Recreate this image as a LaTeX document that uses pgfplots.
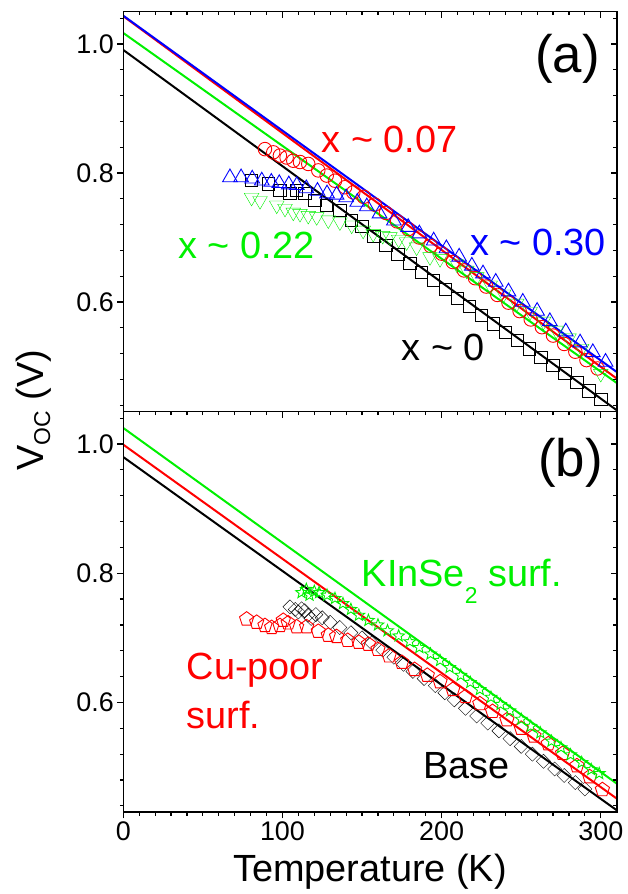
\documentclass[border=0pt]{standalone}
\usepackage{pgfplots}
\pgfplotsset{compat=1.18}
\usepackage{fontspec}
\setmainfont{Liberation Sans}
\definecolor{myred}{RGB}{255,0,0}
\definecolor{myblue}{RGB}{0,0,255}
\definecolor{mygreen}{RGB}{0,240,0}

\pgfdeclareplotmark{ostar}{%
 \pgfpathmoveto{\pgfpointpolar{90}{\pgfplotmarksize}}%
 \pgfpathlineto{\pgfpointpolar{126}{0.42\pgfplotmarksize}}%
 \pgfpathlineto{\pgfpointpolar{162}{\pgfplotmarksize}}%
 \pgfpathlineto{\pgfpointpolar{198}{0.42\pgfplotmarksize}}%
 \pgfpathlineto{\pgfpointpolar{234}{\pgfplotmarksize}}%
 \pgfpathlineto{\pgfpointpolar{270}{0.42\pgfplotmarksize}}%
 \pgfpathlineto{\pgfpointpolar{306}{\pgfplotmarksize}}%
 \pgfpathlineto{\pgfpointpolar{342}{0.42\pgfplotmarksize}}%
 \pgfpathlineto{\pgfpointpolar{18}{\pgfplotmarksize}}%
 \pgfpathlineto{\pgfpointpolar{54}{0.42\pgfplotmarksize}}%
 \pgfpathclose
 \pgfusepathqstroke
}

\tikzset{lbl/.style={anchor=base west, inner sep=0pt, font=\fontsize{38}{44}\selectfont}}

\pgfplotsset{
 base/.style={scale only axis, width=493.4bp, xmin=0, xmax=310, ymin=0.43, ymax=1.05,
   axis line style={line width=1.6bp},
   xtick={0,100,200,300},
   minor xtick={10,20,30,40,50,60,70,80,90,110,120,130,140,150,160,170,180,190,210,220,230,240,250,260,270,280,290},
   ytick={0.6,0.8,1.0},
   minor ytick={0.44,0.48,0.52,0.56,0.64,0.68,0.72,0.76,0.84,0.88,0.92,0.96,1.04},
   major tick length=6bp, minor tick length=3.5bp,
   tick style={black, line width=1.2bp},
   /pgf/number format/assume math mode=true,
   tick label style={font=\fontsize{27}{32}\selectfont},
 },
 mirror/.style={base, tick align=inside, xtick pos=right, ytick pos=right, xticklabels={}, yticklabels={}},
 main/.style={base, tick align=outside, xtick pos=left, ytick pos=left, yticklabels={0.6,0.8,1.0}},
 mk/.style={only marks, mark options={line width=0.9bp, solid}},
 fit/.style={line width=2bp, no marks},
}

\begin{document}
\begin{tikzpicture}
\path[use as bounding box] (0,0) rectangle (628bp,894bp);

% ---------------- Panel (a) ----------------
\begin{axis}[main, height=400bp, at={(123.3bp,482.3bp)}, anchor=south west, xticklabels={}]
\addplot[mk, black, mark=square, mark size=6.2] coordinates {
(80.6,0.788)(91.1,0.783)(98.4,0.773)(104.7,0.768)(108.9,0.773)(114.1,0.768)(120.4,0.757)(127.8,0.750)(136.1,0.742)(143.5,0.726)(150,0.717)(157.5,0.702)(165,0.688)(172.5,0.674)(180,0.660)(187.5,0.646)(195,0.633)(202.5,0.619)(210,0.606)(217.5,0.593)(225,0.579)(232.5,0.566)(240,0.553)(247.5,0.540)(255,0.527)(262.5,0.514)(270,0.502)(277.5,0.489)(285,0.475)(292.5,0.462)(300,0.449)};
\addplot[mk, myred, mark=o, mark size=6.8] coordinates {
(89,0.837)(94.2,0.832)(98.4,0.827)(102.6,0.824)(106.8,0.819)(111,0.817)(116.2,0.814)(122.5,0.804)(127.8,0.796)(133,0.788)(139.3,0.778)(144.5,0.770)(151,0.763)(158,0.751)(165,0.738)(172,0.725)(179,0.713)(186,0.700)(193,0.687)(200,0.675)(207,0.662)(214,0.649)(221,0.637)(228,0.624)(235,0.611)(242,0.599)(249,0.586)(256,0.573)(263,0.561)(270,0.548)(277,0.535)(284,0.523)(291,0.510)(298,0.497)};
\addplot[mk, myblue, mark=triangle, mark size=8.5] coordinates {
(67,0.793)(74,0.793)(81,0.791)(87,0.788)(93,0.786)(98,0.784)(104,0.782)(109,0.781)(115,0.776)(122,0.772)(128,0.768)(134,0.766)(140,0.762)(147,0.755)(153,0.748)(161,0.737)(170,0.726)(179,0.716)(186,0.706)(195,0.695)(203,0.683)(211,0.670)(219,0.656)(226,0.644)(234,0.631)(242,0.616)(251,0.600)(260,0.586)(268,0.570)(278,0.554)(287,0.537)(295,0.522)(303,0.507)};
\addplot[mk, mygreen, mark=triangle, mark size=8.5, mark options={rotate=180}] coordinates {
(80.6,0.762)(85.9,0.757)(96.4,0.750)(101.6,0.745)(106.8,0.739)(111,0.737)(116.2,0.734)(121.5,0.732)(128.8,0.727)(136.1,0.724)(143.5,0.719)(150.7,0.711)(157,0.706)(163,0.703)(167.5,0.701)(173,0.697)(178,0.693)(184.3,0.685)(192.7,0.670)(199,0.667)(209.5,0.659)(215.8,0.649)(222.1,0.639)(230.5,0.626)(238.9,0.612)(247.2,0.598)(255.6,0.585)(264,0.570)(272,0.556)(280,0.544)(288,0.528)(300,0.489)};
\addplot[fit, black] coordinates {(0,0.9907)(310,0.4323)};
\addplot[fit, mygreen] coordinates {(0,1.017)(310,0.4746)};
\addplot[fit, myred] coordinates {(0,1.043)(310,0.4814)};
\addplot[fit, myblue] coordinates {(0,1.0438)(310,0.4916)};
\node[lbl, font=\fontsize{53}{60}\selectfont] at (axis cs:258.6,0.956) {(a)};
\node[lbl, text=myred] at (axis cs:124.6,0.832) {x \textasciitilde{} 0.07};
\node[lbl, text=myblue] at (axis cs:217.8,0.6723) {x \textasciitilde{} 0.30};
\node[lbl, text=mygreen] at (axis cs:34.5,0.667) {x \textasciitilde{} 0.22};
\node[lbl, text=black] at (axis cs:174.9,0.5098) {x \textasciitilde{} 0};
\end{axis}
\begin{axis}[mirror, height=400bp, at={(123.3bp,482.3bp)}, anchor=south west]
\end{axis}

% ---------------- Panel (b) ----------------
\begin{axis}[main, height=400.6bp, at={(123.3bp,81.7bp)}, anchor=south west, xticklabels={0,100,200,300}]
\addplot[mk, black, mark=square, mark size=5, mark options={rotate=45}] coordinates {
(104.7,0.748)(108,0.744)(110,0.740)(112,0.745)(114,0.742)(116,0.735)(118,0.730)(121,0.736)(125,0.731)(130,0.724)(136,0.716)(143,0.708)(150,0.700)(156,0.692)(163,0.681)(170,0.670)(176,0.659)(182,0.648)(189,0.637)(196,0.626)(202,0.615)(208,0.604)(215,0.591)(222,0.579)(229,0.568)(236,0.556)(243,0.544)(250,0.532)(257,0.520)(264,0.509)(271,0.497)(277,0.487)(284,0.476)(290,0.466)};
\addplot[mk, myred, mark=pentagon, mark size=7.5] coordinates {
(77.5,0.729)(83.8,0.724)(89,0.719)(93.2,0.716)(98.4,0.719)(100.5,0.727)(103.6,0.723)(108.9,0.717)(115.2,0.717)(122.5,0.710)(128.8,0.704)(134,0.702)(141,0.696)(148,0.693)(154,0.690)(160,0.682)(167,0.672)(175,0.662)(183,0.651)(191,0.642)(199,0.632)(207,0.620)(215,0.609)(224,0.598)(232,0.586)(241,0.573)(250,0.560)(258,0.548)(267,0.536)(276,0.521)(285,0.502)(293,0.485)(301,0.465)};
\addplot[mk, mygreen, mark=ostar, mark size=6.2] coordinates {
(112,0.770)(115,0.775)(117,0.766)(120,0.772)(123,0.770)(128,0.766)(133,0.761)(138,0.753)(143,0.744)(148,0.735)(154,0.727)(160,0.720)(166,0.711)(173,0.703)(180,0.694)(186,0.685)(193,0.675)(199,0.665)(205,0.654)(212,0.642)(218,0.631)(224,0.620)(231,0.608)(237,0.597)(243,0.587)(250,0.574)(256,0.563)(262,0.553)(269,0.540)(275,0.530)(281,0.519)(288,0.507)(294,0.496)(299,0.490)};
\addplot[fit, black] coordinates {(0,0.9798)(310,0.4332)};
\addplot[fit, myred] coordinates {(0,0.999)(310,0.4513)};
\addplot[fit, mygreen] coordinates {(0,1.0248)(310,0.4745)};
\node[lbl, font=\fontsize{53}{60}\selectfont] at (axis cs:260.5,0.9496) {(b)};
\node[lbl, text=mygreen] at (axis cs:149.7,0.779) {KInSe\raisebox{-16.6bp}{\fontsize{23}{23}\selectfont 2} surf.};
\node[lbl, text=myred] at (axis cs:39.8,0.635) {Cu-poor};
\node[lbl, text=myred] at (axis cs:39.8,0.560) {surf.};
\node[lbl, text=black] at (axis cs:188.4,0.4823) {Base};
\end{axis}
\begin{axis}[mirror, height=400.6bp, at={(123.3bp,81.7bp)}, anchor=south west]
\end{axis}

% ---------------- Axis labels ----------------
\node[rotate=90, anchor=base, inner sep=0pt, font=\fontsize{38}{44}\selectfont] at (43.3bp,484bp) {V\raisebox{-6.7bp}{\fontsize{23}{23}\selectfont OC} (V)};
\node[anchor=base, inner sep=0pt, font=\fontsize{38}{44}\selectfont] at (370bp,12.3bp) {Temperature (K)};
\end{tikzpicture}
\end{document}
